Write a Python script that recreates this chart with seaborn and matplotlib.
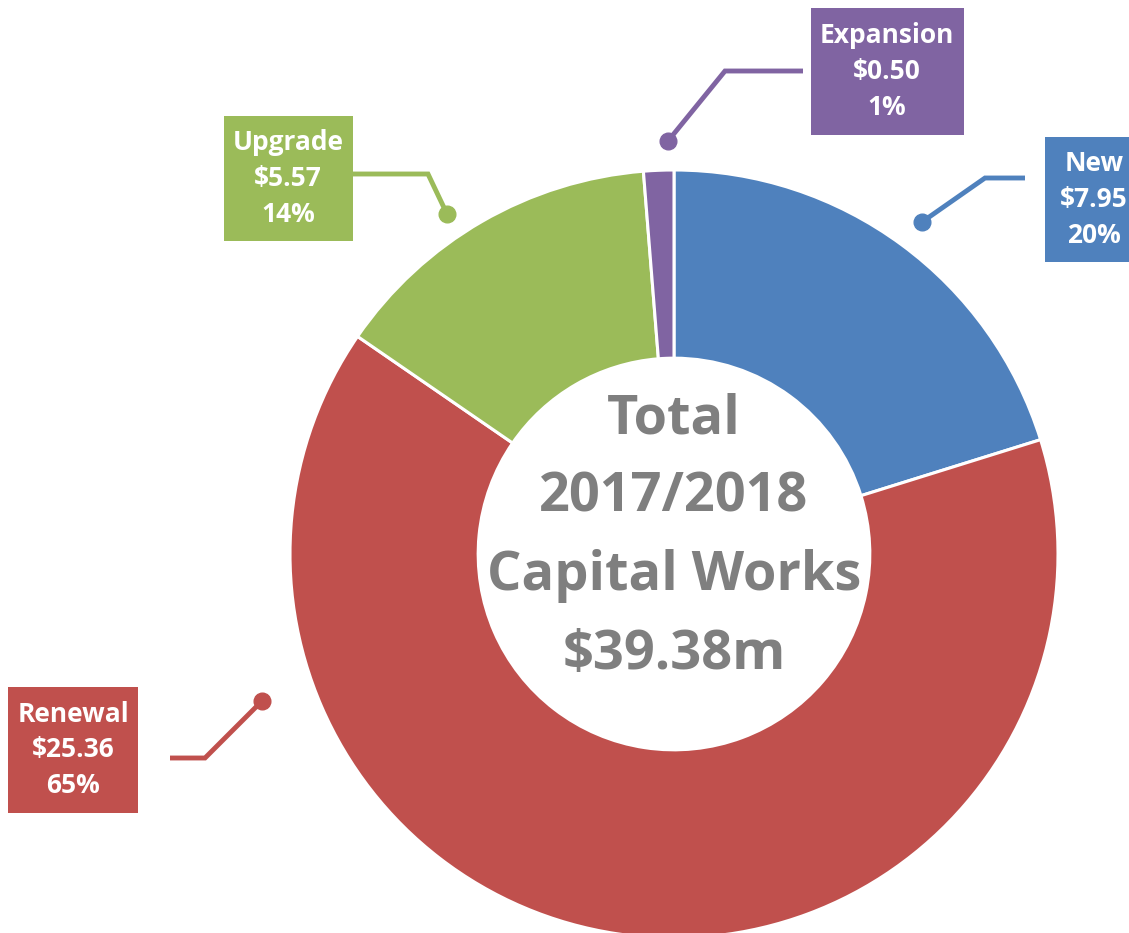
import numpy as np
import matplotlib
matplotlib.use("Agg")
import matplotlib.pyplot as plt
import seaborn as sns

# Capital works categories ($m), 2017/2018
categories = ['New', 'Renewal', 'Upgrade', 'Expansion']
amounts = [7.95, 25.36, 5.57, 0.50]
percent_labels = ['20%', '65%', '14%', '1%']
total_label = '$39.38m'

colors = ['#4F81BD', '#C0504D', '#9BBB59', '#8064A2']

sns.set_style('white')
plt.rcParams['font.family'] = ['Open Sans', 'DejaVu Sans']

W, H = 1129, 933
fig = plt.figure(figsize=(W / 100, H / 100), dpi=100)
ax = fig.add_axes([0, 0, 1, 1])
ax.set_xlim(0, W)
ax.set_ylim(0, H)
ax.set_aspect('equal')
ax.axis('off')

# donut, pixel coords with y measured from the bottom
cx, cy, R = 674, H - 554, 384
ax.pie(amounts, colors=colors, startangle=90, counterclock=False,
       center=(cx, cy), radius=R,
       wedgeprops=dict(width=R * 0.49, edgecolor='white', linewidth=2.2))
ax.set_xlim(0, W)
ax.set_ylim(0, H)

ax.text(cx, H - 537, f'Total\n2017/2018\nCapital Works\n{total_label}',
        ha='center', va='center', fontsize=39, fontweight='bold',
        color='#7F7F7F', linespacing=1.6)

# leader line paths (dot -> elbow -> box) and label boxes, in pixel coords
leaders = {
    'New':       [(922, 222), (985, 178), (1025, 178)],
    'Renewal':   [(262, 701), (205, 758), (170, 758)],
    'Upgrade':   [(447, 214), (428, 174), (353, 174)],
    'Expansion': [(668, 141), (725, 71), (803, 71)],
}
boxes = {
    'New':       (1045, 137, 1140, 262),
    'Renewal':   (8, 687, 138, 813),
    'Upgrade':   (224, 116, 353, 241),
    'Expansion': (811, 8, 964, 135),
}
text_x = {'New': 1094, 'Renewal': 73, 'Upgrade': 288, 'Expansion': 887}

for cat, amt, pct, col in zip(categories, amounts, percent_labels, colors):
    pts = leaders[cat]
    xs = [p[0] for p in pts]
    ys = [H - p[1] for p in pts]
    ax.plot(xs, ys, color=col, lw=3.5, solid_capstyle='butt',
            solid_joinstyle='miter')
    ax.plot(xs[0], ys[0], 'o', color=col, ms=12)
    x0, y0, x1, y1 = boxes[cat]
    ax.add_patch(plt.Rectangle((x0, H - y1), x1 - x0, y1 - y0,
                               facecolor=col, edgecolor='none'))
    ax.text(text_x[cat], H - (y0 + y1) / 2, f'{cat}\n${amt:.2f}\n{pct}',
            ha='center', va='center', fontsize=19, fontweight='bold',
            color='white', linespacing=1.42)

fig.savefig('out.png', dpi=100)
